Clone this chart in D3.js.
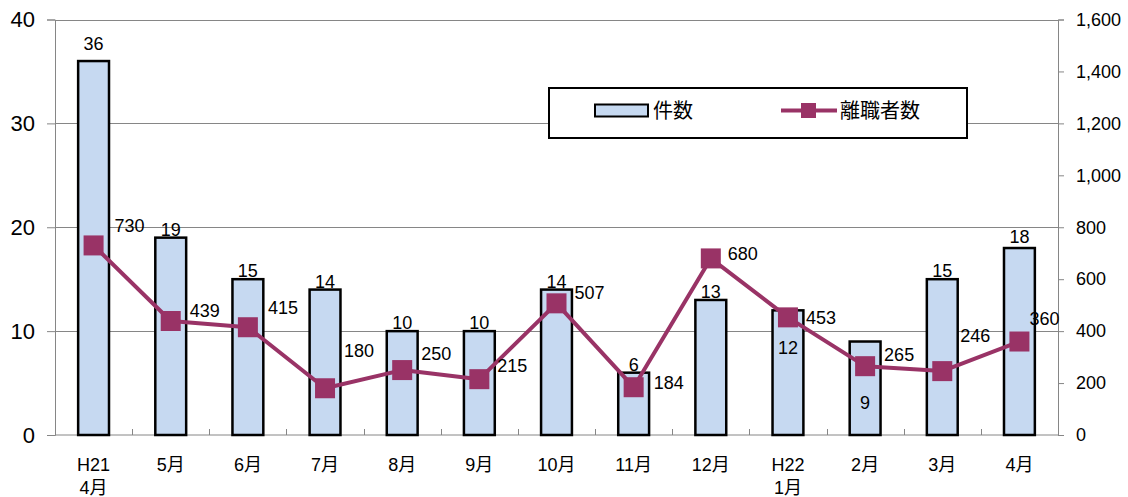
<!DOCTYPE html>
<html>
<head>
<meta charset="utf-8">
<script src="https://cdn.jsdelivr.net/npm/d3@7"></script>
<style>
  body { margin: 0; background: #fff; }
  text { font-family: "Liberation Sans", "Noto Sans CJK JP", sans-serif; fill: #000; }
</style>
</head>
<body>
<svg class="chart" width="1128" height="497"></svg>
<script>
// data
var months = ["H21\n4月", "5月", "6月", "7月", "8月", "9月", "10月", "11月", "12月", "H22\n1月", "2月", "3月", "4月"];
var cases = [36, 19, 15, 14, 10, 10, 14, 6, 13, 12, 9, 15, 18];
var leavers = [730, 439, 415, 180, 250, 215, 507, 184, 680, 453, 265, 246, 360];
var leftTicks = [0, 10, 20, 30, 40];
var rightTicks = [0, 200, 400, 600, 800, 1000, 1200, 1400, 1600];
var seriesNames = ["件数", "離職者数"];

// label nudges (hand placed in the original)
var barLabelDy = [-11, -2, -2, -2, -2, -2, -2, -2, -2, 44, 67, -2, -5];
var lineLabelDx = [21, 19, 20, 19, 19, 18, 18, 20, 17, 18, 19, 18, 10];
var lineLabelDy = [-20, -10, -20, -38, -16, -13, -11, -5, -5, 0, -11, -35, -23];

var barFill = "#c6d9f1",
  lineColor = "#993366",
  gridColor = "#868686",
  labelSize = "18px";

var margin = {top: 19.5, left: 55, right: 1058, bottom: 435};

var svg = d3.select(".chart");

var x = d3.scaleBand()
  .domain(months)
  .range([margin.left, margin.right])
  .paddingInner(0.6)
  .paddingOuter(0.3);

var step = x.step();

var yL = d3.scaleLinear().domain([0, 40]).range([margin.bottom, margin.top]);
var yR = d3.scaleLinear().domain([0, 1600]).range([margin.bottom, margin.top]);

// gridlines
svg.append("g")
  .selectAll("line")
  .data(leftTicks.slice(1))
  .enter().append("line")
  .attr("x1", margin.left).attr("x2", margin.right)
  .attr("y1", function(d) { return Math.round(yL(d)) + 0.5; })
  .attr("y2", function(d) { return Math.round(yL(d)) + 0.5; })
  .attr("stroke", gridColor).attr("stroke-width", 1);

// left axis
var leftAxis = svg.append("g")
  .attr("transform", "translate(" + margin.left + ",0)")
  .call(d3.axisLeft(yL).tickValues(leftTicks).tickSize(8).tickPadding(12));
leftAxis.selectAll(".tick text").style("font-size", "22px");

// right axis
var rightAxis = svg.append("g")
  .attr("transform", "translate(" + margin.right + ",0)")
  .call(d3.axisRight(yR).tickValues(rightTicks).tickSize(6).tickPadding(12).tickFormat(d3.format(",")));
rightAxis.selectAll(".tick text").style("font-size", "18px");

[leftAxis, rightAxis].forEach(function(a) {
  a.select(".domain").attr("stroke", gridColor);
  a.selectAll(".tick line").attr("stroke", gridColor);
});

// bottom axis line and category separators
svg.append("line")
  .attr("x1", margin.left).attr("x2", margin.right)
  .attr("y1", margin.bottom).attr("y2", margin.bottom)
  .attr("stroke", gridColor);

svg.append("g")
  .selectAll("line")
  .data(months.slice(1))
  .enter().append("line")
  .attr("x1", function(d) { return Math.round(x(d) - (step - x.bandwidth()) / 2) + 0.5; })
  .attr("x2", function(d) { return Math.round(x(d) - (step - x.bandwidth()) / 2) + 0.5; })
  .attr("y1", margin.bottom - 6).attr("y2", margin.bottom)
  .attr("stroke", gridColor);

// category labels
var cat = svg.append("g").selectAll("text")
  .data(months)
  .enter().append("text")
  .attr("text-anchor", "middle")
  .style("font-size", labelSize)
  .attr("transform", function(d) { return "translate(" + (x(d) + x.bandwidth() / 2) + ",471)"; });
cat.selectAll("tspan")
  .data(function(d) { return d.split("\n"); })
  .enter().append("tspan")
  .attr("x", 0)
  .attr("y", function(d, i) { return i * 23; })
  .text(function(d) { return d; });

// legend
var legend = svg.append("g");
legend.append("rect")
  .attr("x", 549).attr("y", 88).attr("width", 418).attr("height", 50)
  .attr("fill", "#fff").attr("stroke", "#000").attr("stroke-width", 2);
legend.append("rect")
  .attr("x", 595).attr("y", 104.5).attr("width", 53).attr("height", 12)
  .attr("fill", barFill).attr("stroke", "#000").attr("stroke-width", 2);
legend.append("text")
  .attr("x", 653).attr("y", 118)
  .style("font-size", "20px")
  .text(seriesNames[0]);
legend.append("line")
  .attr("x1", 781).attr("x2", 837).attr("y1", 110.5).attr("y2", 110.5)
  .attr("stroke", lineColor).attr("stroke-width", 4);
legend.append("rect")
  .attr("x", 801).attr("y", 103).attr("width", 15).attr("height", 15)
  .attr("fill", lineColor);
legend.append("text")
  .attr("x", 840).attr("y", 118)
  .style("font-size", "20px")
  .text(seriesNames[1]);

// bars
svg.append("g")
  .selectAll("rect")
  .data(cases)
  .enter().append("rect")
  .attr("x", function(d, i) { return x(months[i]); })
  .attr("y", function(d) { return yL(d); })
  .attr("width", x.bandwidth())
  .attr("height", function(d) { return yL(0) - yL(d); })
  .attr("fill", barFill)
  .attr("stroke", "#000")
  .attr("stroke-width", 2.5);

svg.append("g")
  .selectAll("text")
  .data(cases)
  .enter().append("text")
  .attr("x", function(d, i) { return x(months[i]) + x.bandwidth() / 2; })
  .attr("y", function(d, i) { return yL(d) + barLabelDy[i]; })
  .attr("text-anchor", "middle")
  .style("font-size", labelSize)
  .text(function(d) { return d; });

// line
var cx = function(d, i) { return x(months[i]) + x.bandwidth() / 2; };

var line = d3.line()
  .x(cx)
  .y(function(d) { return yR(d); });

svg.append("path")
  .datum(leavers)
  .attr("d", line)
  .attr("fill", "none")
  .attr("stroke", lineColor)
  .attr("stroke-width", 4)
  .attr("stroke-linejoin", "round");

svg.append("g")
  .selectAll("rect")
  .data(leavers)
  .enter().append("rect")
  .attr("x", function(d, i) { return cx(d, i) - 10; })
  .attr("y", function(d) { return yR(d) - 10; })
  .attr("width", 20)
  .attr("height", 20)
  .attr("fill", lineColor);

svg.append("g")
  .selectAll("text")
  .data(leavers)
  .enter().append("text")
  .attr("x", function(d, i) { return cx(d, i) + lineLabelDx[i]; })
  .attr("y", function(d, i) { return yR(d) + lineLabelDy[i]; })
  .attr("dy", "0.35em")
  .style("font-size", labelSize)
  .text(function(d) { return d; });
</script>
</body>
</html>
